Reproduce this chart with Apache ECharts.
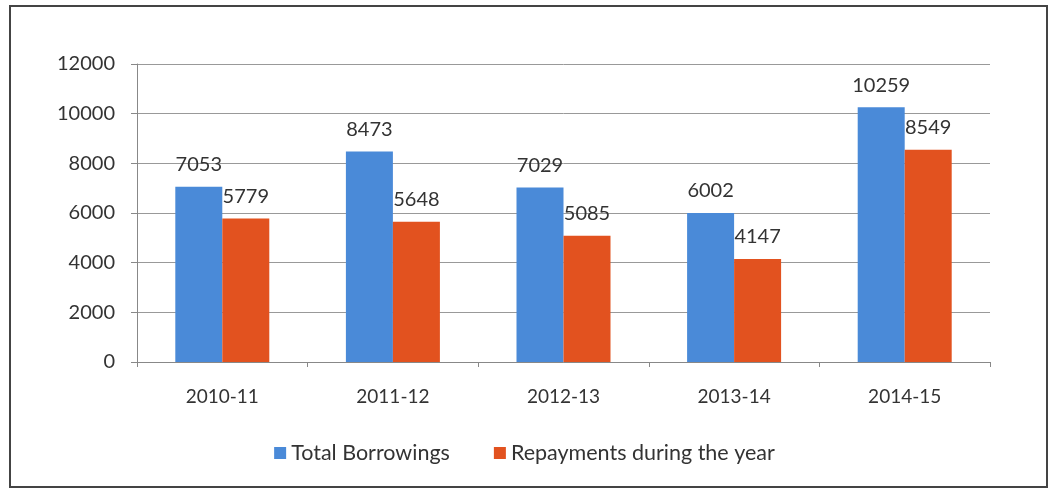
<!DOCTYPE html>
<html>
<head>
<meta charset="utf-8">
<script src="https://cdn.jsdelivr.net/npm/echarts@6/dist/echarts.min.js"></script>
<style>
  html, body { margin: 0; padding: 0; background: #fff; }
  #chart { width: 1049px; height: 490px; }
</style>
</head>
<body>
<div id="chart"></div>
<script>
// Yearly borrowings vs. repayments
const categories = ['2010-11', '2011-12', '2012-13', '2013-14', '2014-15'];
const totalBorrowings = [7053, 8473, 7029, 6002, 10259];
const repayments = [5779, 5648, 5085, 4147, 8549];
const seriesNames = ['Total Borrowings', 'Repayments during the year'];

const FONT = 'Lato, "Open Sans", sans-serif';
const TEXT = '#333';

const chart = echarts.init(document.getElementById('chart'), null, { renderer: 'canvas' });

const labelStyle = {
  show: true,
  position: 'top',
  distance: 12,
  color: TEXT,
  fontFamily: FONT,
  fontSize: 20
};

chart.setOption({
  backgroundColor: '#fff',
  animation: false,
  graphic: [{
    type: 'rect',
    shape: { x: 10, y: 6, width: 1037, height: 481 },
    style: { fill: 'none', stroke: '#444', lineWidth: 2 },
    silent: true
  }],
  grid: { left: 137, right: 59, top: 64, bottom: 128, containLabel: false },
  legend: {
    data: seriesNames,
    top: 437,
    left: 'center',
    itemWidth: 12,
    itemHeight: 12,
    itemGap: 44,
    icon: 'rect',
    textStyle: { color: TEXT, fontFamily: FONT, fontSize: 21.5 }
  },
  xAxis: {
    type: 'category',
    data: categories,
    axisLine: { lineStyle: { color: '#888' } },
    axisTick: { show: true, alignWithLabel: false, length: 5, lineStyle: { color: '#888' } },
    axisLabel: { color: TEXT, fontFamily: FONT, fontSize: 19, margin: 25 }
  },
  yAxis: {
    type: 'value',
    min: 0,
    max: 12000,
    interval: 2000,
    axisLine: { show: true, lineStyle: { color: '#888' } },
    axisTick: { show: true, length: 6, lineStyle: { color: '#888' } },
    axisLabel: {
      color: TEXT, fontFamily: FONT, fontSize: 20, margin: 22,
      formatter: (v) => String(v)
    },
    splitLine: { lineStyle: { color: '#999', width: 1 } }
  },
  series: [
    {
      name: seriesNames[0],
      type: 'bar',
      data: totalBorrowings,
      barWidth: 47,
      barGap: '0%',
      itemStyle: { color: '#4A8AD8' },
      label: labelStyle
    },
    {
      name: seriesNames[1],
      type: 'bar',
      data: repayments,
      barWidth: 47,
      barGap: '0%',
      itemStyle: { color: '#E2521F' },
      label: labelStyle
    }
  ]
});
</script>
</body>
</html>
